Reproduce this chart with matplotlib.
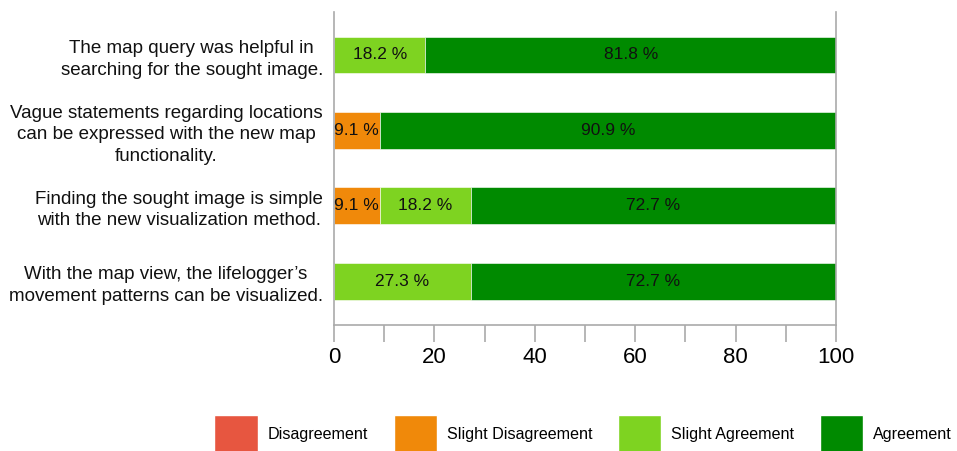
import numpy as np
import matplotlib
matplotlib.use("Agg")
from matplotlib import pyplot as plt
from matplotlib.patches import Patch

plt.rcParams['font.family'] = ['Liberation Sans', 'DejaVu Sans']

# statements (top to bottom)
statements = [
    "The map query was helpful in\nsearching for the sought image.",
    "Vague statements regarding locations\ncan be expressed with the new map\nfunctionality.",
    "Finding the sought image is simple\nwith the new visualization method.",
    "With the map view, the lifelogger\u2019s\nmovement patterns can be visualized.",
]

categories = ['Disagreement', 'Slight Disagreement', 'Slight Agreement', 'Agreement']
colors = ['#e75640', '#f0890a', '#7ed321', '#008a00']

# percentages per answer category
disagreement = [0.0, 0.0, 0.0, 0.0]
slight_disagreement = [0.0, 9.1, 9.1, 0.0]
slight_agreement = [18.2, 0.0, 18.2, 27.3]
agreement = [81.8, 90.9, 72.7, 72.7]

values = [disagreement, slight_disagreement, slight_agreement, agreement]

fig = plt.figure(figsize=(9.57, 4.51), dpi=100)
ax = fig.add_axes([334/957, 1-325/451, (836-334)/957, (325-12)/451])

y = np.arange(len(statements))
left = np.zeros(len(statements))
for vals, col in zip(values, colors):
    vals = np.array(vals)
    bars = ax.barh(y, vals, left=left, height=0.49, color=col,
                   edgecolor='white', linewidth=0.4)
    for b, v in zip(bars, vals):
        if v > 0:
            ax.text(b.get_x() + b.get_width()/2, b.get_y() + b.get_height()/2,
                    f"{v:.1f} %", ha='center', va='center', fontsize=12.5,
                    color='#111111')
    left += vals

ax.set_xlim(0, 100)
ax.set_ylim(3.58, -0.57)
ax.set_yticks(y)
ax.set_yticklabels(statements, fontsize=13.5, multialignment='center',
                   linespacing=1.35, color='#111111')
ax.tick_params(axis='y', length=0, pad=8)

ax.set_xticks(range(0, 101, 20))
ax.set_xticks(range(0, 101, 10), minor=True)
ax.tick_params(axis='x', which='both', direction='out', length=12,
               color='#aaaaaa', width=1.2, labelsize=16, pad=4)

for s in ['left', 'right', 'bottom']:
    ax.spines[s].set_color('#aaaaaa')
    ax.spines[s].set_linewidth(1.2)
ax.spines['top'].set_visible(False)

handles = [Patch(facecolor=c, edgecolor='white') for c in colors]
fig.legend(handles, categories, loc='center', ncol=4,
           bbox_to_anchor=(583/957, 1-434/451), frameon=False,
           fontsize=11.6, handlelength=2.7, handleheight=3.2,
           handletextpad=0.6, columnspacing=1.6, borderpad=0)

fig.savefig('out.png', dpi=100)
